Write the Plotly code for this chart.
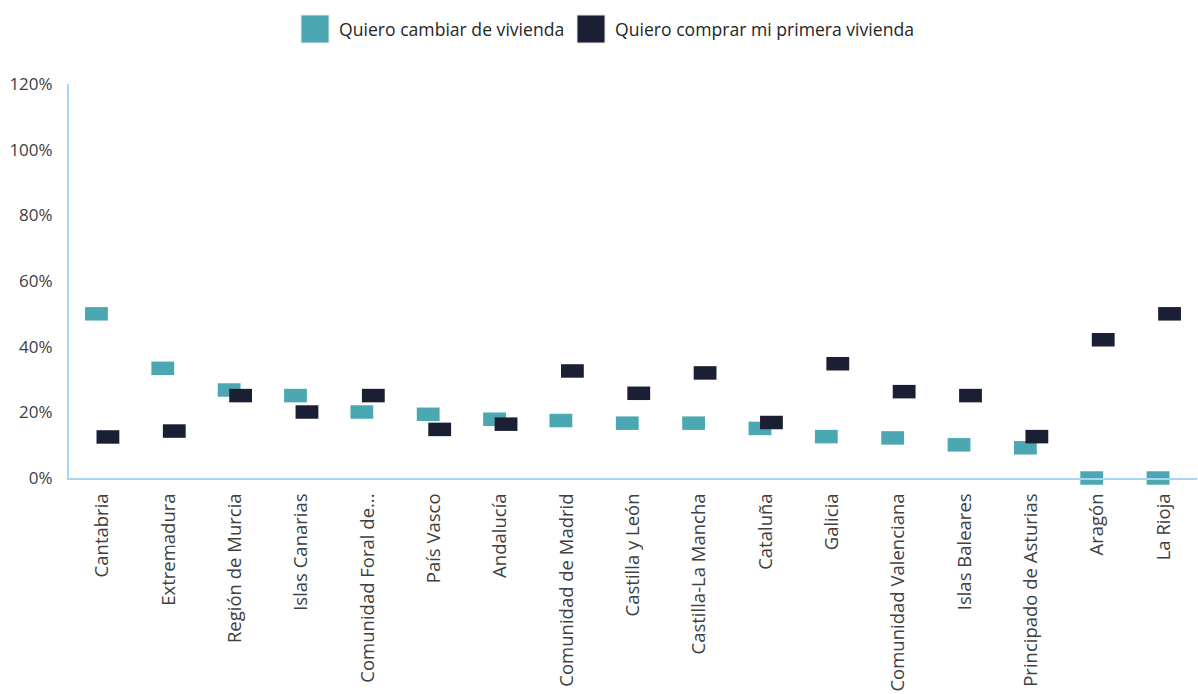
import plotly.graph_objects as go

categories = ["Cantabria", "Extremadura", "Región de Murcia", "Islas Canarias",
              "Comunidad Foral de...", "País Vasco", "Andalucía", "Comunidad de Madrid",
              "Castilla y León", "Castilla-La Mancha", "Cataluña", "Galicia",
              "Comunidad Valenciana", "Islas Baleares", "Principado de Asturias",
              "Aragón", "La Rioja"]
cambiar = [50.0, 33.4, 26.8, 25.1, 20.1, 19.4, 17.9, 17.5, 16.7, 16.7, 15.1, 12.6, 12.2, 10.1, 9.2, 0.0, 0.0]
primera = [12.5, 14.3, 25.1, 20.1, 25.1, 14.8, 16.4, 32.6, 25.8, 32.0, 16.9, 34.8, 26.3, 25.1, 12.6, 42.1, 50.0]
series_names = ["Quiero cambiar de vivienda", "Quiero comprar mi primera vivienda"]
colors = ["#4BA8B2", "#1B1F33"]
yticks = [0, 20, 40, 60, 80, 100, 120]

FONT = "Open Sans, Segoe UI, sans-serif"
AXIS_COLOR = "#A9D5F5"

fig = go.Figure()
for name, vals, col in zip(series_names, [cambiar, primera], colors):
    fig.add_trace(go.Scatter(
        x=categories, y=vals, name=name, mode="markers",
        marker=dict(symbol="line-ew", size=16.3, color=col,
                    line=dict(color=col, width=13.5)),
        cliponaxis=False, showlegend=False,
    ))

W, H = 1198, 694
L, R, T, B = 69, 1, 84, 216
pw, ph = W - L - R, H - T - B

def px(x):
    return (x - L) / pw

def py(y):
    return (H - B - y) / ph

shapes = []
annotations = []
legend_items = [(301, 337), (577, 613)]
for (sx, tx), name, col in zip(legend_items, series_names, colors):
    shapes.append(dict(type="rect", xref="paper", yref="paper",
                       x0=px(sx), x1=px(sx + 28), y0=py(43), y1=py(15),
                       fillcolor=col, line=dict(color="#E6E6E6", width=1)))
    annotations.append(dict(text=name, xref="paper", yref="paper",
                            x=px(tx), y=py(29), xanchor="left", yanchor="middle",
                            showarrow=False, font=dict(family=FONT, size=17.6, color="#262626")))

fig.update_layout(
    width=W, height=H,
    margin=dict(l=L, r=R, t=T, b=B),
    paper_bgcolor="white", plot_bgcolor="white",
    scattermode="group", scattergap=0.654,
    shapes=shapes, annotations=annotations,
    font=dict(family=FONT, size=17, color="#404040"),
)
fig.update_xaxes(
    type="category", range=[-0.5, 16.5], tickangle=-90,
    showline=True, linecolor=AXIS_COLOR, linewidth=2,
    showgrid=False, zeroline=False, ticks="", ticklabelstandoff=6,
    tickfont=dict(family=FONT, size=18.5, color="#404040"),
)
fig.update_yaxes(
    range=[0, 120], tickvals=yticks, ticktext=[f"{v}%" for v in yticks],
    showline=True, linecolor=AXIS_COLOR, linewidth=2,
    showgrid=False, zeroline=False, ticks="", ticklabelstandoff=11,
    tickfont=dict(family=FONT, size=17, color="#404040"),
)

fig.write_html("out.html")
